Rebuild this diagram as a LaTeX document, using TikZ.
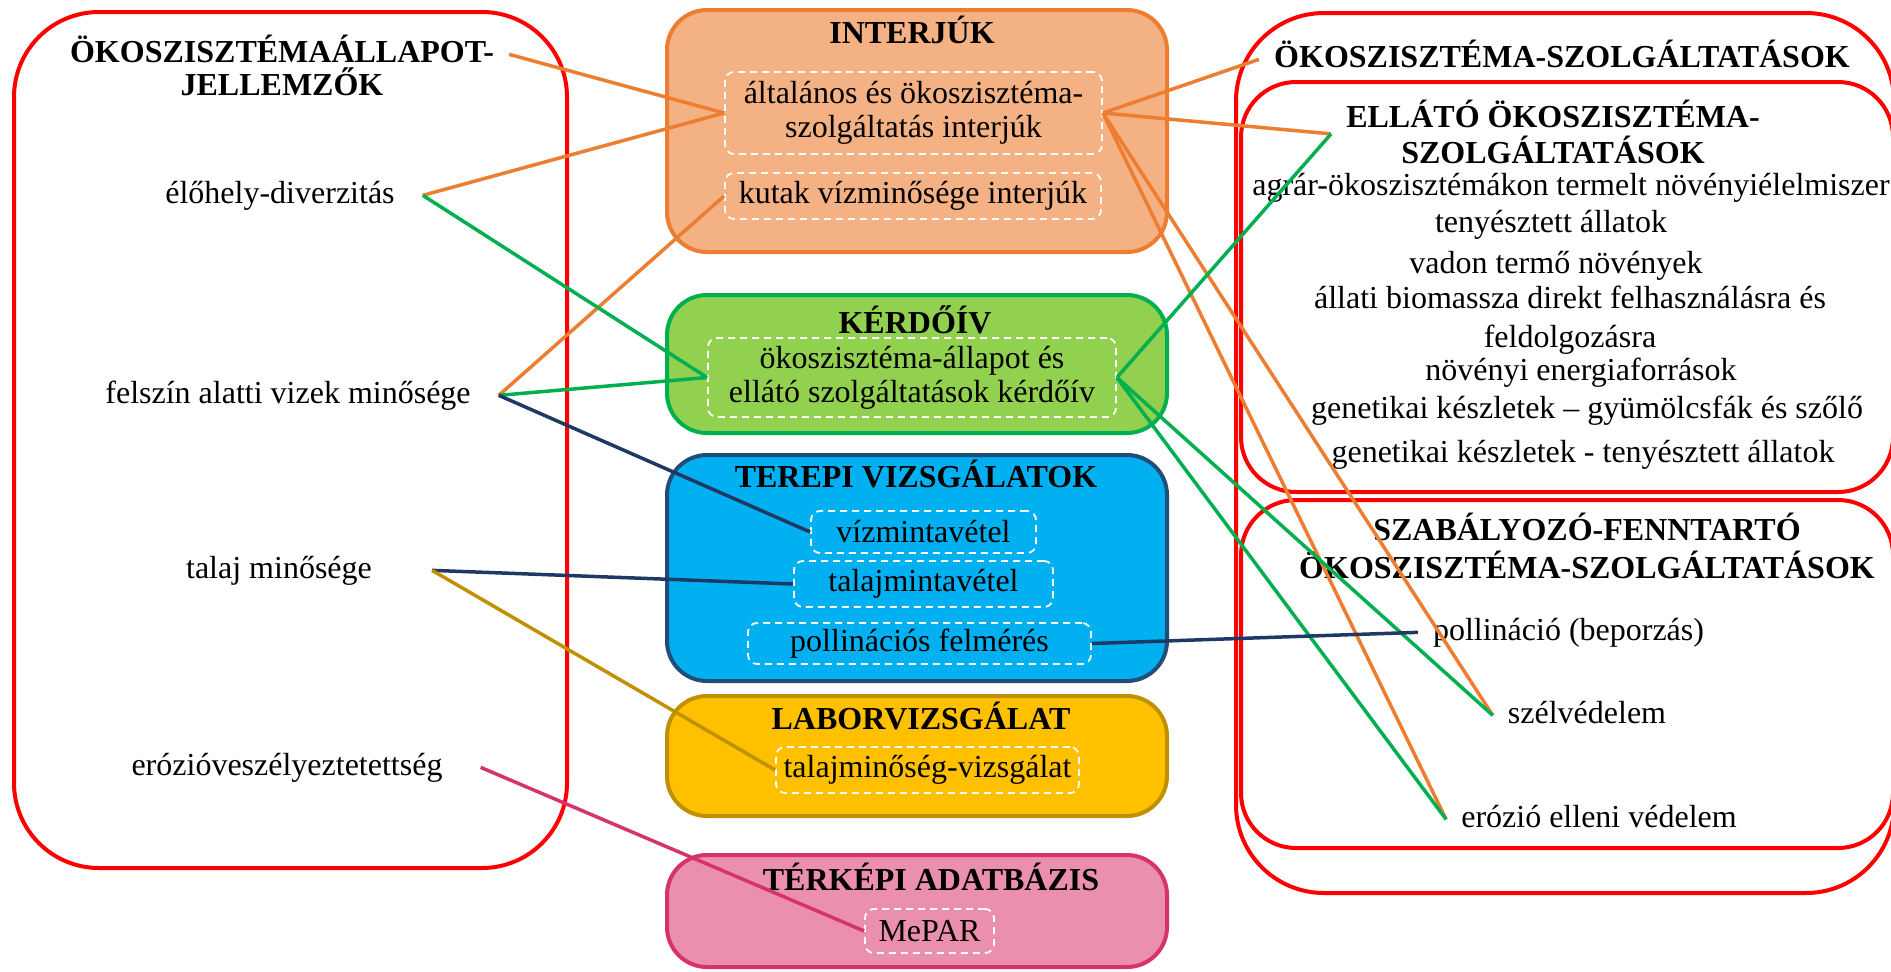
\documentclass[tikz,border=0pt]{standalone}
\usepackage{fontspec}
\setmainfont{Liberation Serif}
\usepackage{xcolor}
\usepackage{tikz}
\usetikzlibrary{
    positioning,
    arrows.meta
}
\definecolor{panelred}{RGB}{255,0,0}
\definecolor{orfill}{RGB}{244,177,131}
\definecolor{orline}{RGB}{237,125,49}
\definecolor{grfill}{RGB}{146,208,80}
\definecolor{grline}{RGB}{0,176,80}
\definecolor{blfill}{RGB}{0,176,240}
\definecolor{blline}{RGB}{31,78,121}
\definecolor{yefill}{RGB}{255,192,0}
\definecolor{yeline}{RGB}{191,144,0}
\definecolor{pkfill}{RGB}{234,143,172}
\definecolor{pkline}{RGB}{214,51,110}
\definecolor{navy}{RGB}{31,56,100}
\tikzset{
    panel/.style={
        draw=panelred, line width=4pt, rounded corners=85pt
    },
    catbox/.style={
        rectangle, line width=4pt, rounded corners=40pt,
        minimum width=500pt
    },
    dashbox/.style={
        rectangle, draw=white, dashed, dash pattern=on 7pt off 5pt,
        line width=1.8pt, rounded corners=9pt, inner sep=0pt, align=center
    },
    head/.style={
        font=\fontsize{32}{34}\selectfont\bfseries,
        text height=22pt, text depth=6.7pt, inner ysep=0pt, inner xsep=15pt
    },
    item/.style={
        text height=22pt, text depth=6.7pt, inner ysep=0pt, inner xsep=15pt
    },
    feature/.style={
        item, inner xsep=28pt
    }
}

\begin{document}
\begin{tikzpicture}[
        x=1pt, y=-1pt,
        font=\fontsize{32}{34}\selectfont,
        link/.style={line width=3.5pt},
        orlink/.style={link, draw=orline},
        grlink/.style={link, draw=grline},
        navylink/.style={link, draw=navy},
        goldlink/.style={link, draw=yeline},
        pinklink/.style={link, draw=pkline}
    ]
    \useasboundingbox (0,0) rectangle (1891,972);
    \clip (0,0) rectangle (1891,972);

    % Panels
    \node[panel, minimum width=553pt, minimum height=856pt] (statepanel) at (290.5,440) {};
    \node[panel, rounded corners=88pt, minimum width=658pt, minimum height=880pt] (espanel) at (1565,453) {};
    \node[panel, rounded corners=55pt, minimum width=652pt, minimum height=410pt] (provpanel) at (1567,287) {};
    \node[panel, rounded corners=55pt, minimum width=652pt, minimum height=348pt] (regpanel) at (1567,674) {};

    % State indicators
    \node[head, anchor=base] (statettl) at (282,62) {ÖKOSZISZTÉMAÁLLAPOT-};
    \node[head, below=4pt of statettl] (statettlb) {JELLEMZŐK};
    \node[feature, anchor=base] (habitat) at (280,203) {élőhely-diverzitás};
    \node[feature, anchor=base] (groundwater) at (288,403) {felszín alatti vizek minősége};
    \node[feature, anchor=base, inner xsep=60pt] (soil) at (279,578) {talaj minősége};
    \node[feature, anchor=base, inner xsep=38pt] (erosion) at (287,775) {erózióveszélyeztetettség};

    % Interviews
    \node[catbox, fill=orfill, draw=orline, minimum height=242pt] (intbox) at (917,131) {};
    \node[head, anchor=base] (intttl) at (912,43) {INTERJÚK};
    \node[dashbox, minimum width=377pt, minimum height=82pt] (genint) at (913.5,113) {általános és ökoszisztéma-\\szolgáltatás interjúk};
    \node[dashbox, minimum width=376pt, minimum height=46pt] (wellint) at (913,196) {kutak vízminősége interjúk};

    % Questionnaire
    \node[catbox, fill=grfill, draw=grline, minimum height=138pt] (qbox) at (917,364) {};
    \node[head, anchor=base] (qttl) at (915,333) {KÉRDŐÍV};
    \node[dashbox, minimum width=408pt, minimum height=79pt] (survey) at (912,377.5) {ökoszisztéma-állapot és\\ellátó szolgáltatások kérdőív};

    % Field work
    \node[catbox, fill=blfill, draw=blline, minimum height=226pt] (fieldbox) at (917,568) {};
    \node[head, anchor=base] (fieldttl) at (916,487) {TEREPI VIZSGÁLATOK};
    \node[dashbox, minimum width=225pt, minimum height=42pt] (watersamp) at (923.5,532) {vízmintavétel};
    \node[dashbox, minimum width=259pt, minimum height=46pt] (soilsamp) at (923.5,584) {talajmintavétel};
    \node[dashbox, minimum width=343pt, minimum height=41pt] (pollsurv) at (919.5,643.5) {pollinációs felmérés};

    % Laboratory
    \node[catbox, fill=yefill, draw=yeline, minimum height=120pt] (labbox) at (917,756) {};
    \node[head, anchor=base] (labttl) at (921,729) {LABORVIZSGÁLAT};
    \node[dashbox, minimum width=303pt, minimum height=46pt] (soiltest) at (927.5,770) {talajminőség-vizsgálat};

    % Map database
    \node[catbox, fill=pkfill, draw=pkline, minimum height=112pt] (mapbox) at (917,911) {};
    \node[head, anchor=base] (mapttl) at (931,890) {TÉRKÉPI ADATBÁZIS};
    \node[dashbox, minimum width=129pt, minimum height=44pt] (mepar) at (929.5,931) {MePAR};

    % Ecosystem services
    \node[head, anchor=base] (esttl) at (1562,67) {ÖKOSZISZTÉMA-SZOLGÁLTATÁSOK};
    \node[head, anchor=base] (provttl) at (1553,127) {ELLÁTÓ ÖKOSZISZTÉMA-};
    \node[head, below=7pt of provttl] (provttlb) {SZOLGÁLTATÁSOK};
    \node[item, anchor=base] (crops) at (1571,195) {agrár-ökoszisztémákon termelt növényiélelmiszer};
    \node[item, anchor=base] (livestock) at (1551,232) {tenyésztett állatok};
    \node[item, anchor=base] (wildplants) at (1556,273) {vadon termő növények};
    \node[item, anchor=base] (biomass) at (1570,308) {állati biomassza direkt felhasználásra és};
    \node[item, anchor=base] (biomassb) at (1570,347) {feldolgozásra};
    \node[item, anchor=base] (energy) at (1581,380) {növényi energiaforrások};
    \node[item, anchor=base] (genfruit) at (1587,418) {genetikai készletek – gyümölcsfák és szőlő};
    \node[item, anchor=base] (genanimal) at (1583,462) {genetikai készletek - tenyésztett állatok};

    \node[head, anchor=base] (regttl) at (1587,540) {SZABÁLYOZÓ-FENNTARTÓ};
    \node[head, below=9pt of regttl] (regttlb) {ÖKOSZISZTÉMA-SZOLGÁLTATÁSOK};
    \node[item, anchor=base] (pollination) at (1568.5,640) {pollináció (beporzás)};
    \node[item, anchor=base] (windbreak) at (1587,723) {szélvédelem};
    \node[item, anchor=base] (erosionctl) at (1599,827) {erózió elleni védelem};

    % Links to methods
    \draw[orlink] (statettl.east) -- (genint.west);
    \draw[orlink] (habitat.east) -- (genint.west);
    \draw[orlink] (groundwater.east) -- (wellint.west);
    \draw[grlink] (habitat.east) -- (survey.west);
    \draw[grlink] (groundwater.east) -- (survey.west);
    \draw[navylink] (groundwater.east) -- (watersamp.west);
    \draw[navylink] (soil.east) -- (soilsamp.west);
    \draw[goldlink] (soil.east) -- (soiltest.west);
    \draw[pinklink] (erosion.east) -- (mepar.west);

    % Links to services
    \draw[orlink] (genint.east) -- (esttl.west);
    \draw[orlink] (genint.east) -- (provttl.south west);
    \draw[orlink] (genint.east) -- (windbreak.west);
    \draw[orlink] (genint.east) -- (erosionctl.west);
    \draw[grlink] (survey.east) -- (provttl.south west);
    \draw[grlink] (survey.east) -- (windbreak.west);
    \draw[grlink] (survey.east) -- (erosionctl.west);
    \draw[navylink] (pollsurv.east) -- (pollination.west);

\end{tikzpicture}
\end{document}
